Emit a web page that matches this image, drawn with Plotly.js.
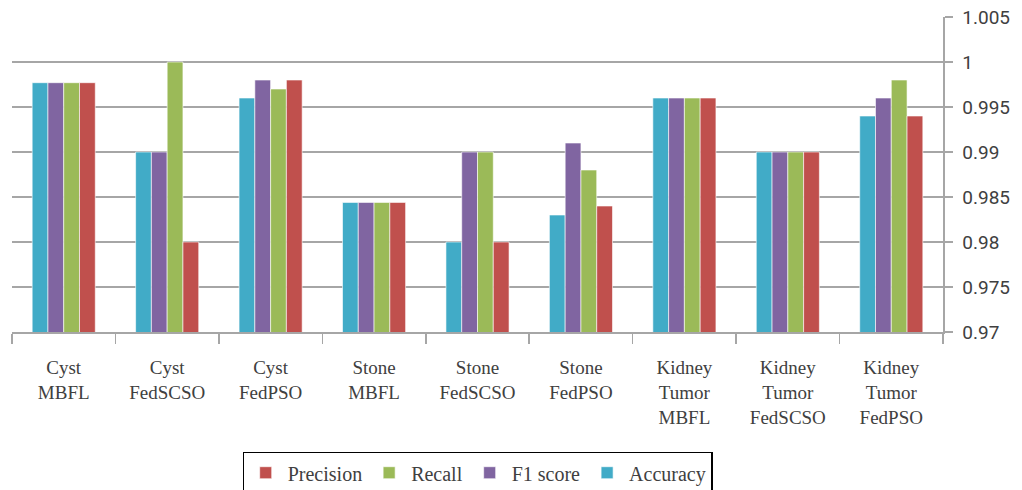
<!DOCTYPE html>
<html><head><meta charset="utf-8">
<script src="https://cdn.plot.ly/plotly-3.0.1.min.js"></script>
<style>html,body{margin:0;padding:0;background:#fff;overflow:hidden}#wrap{width:1022px;height:490px;overflow:hidden}#chart{width:1022px;height:510px}</style>
</head><body><div id="wrap"><div id="chart"></div></div>
<script>
const categories = ["Cyst<br>MBFL","Cyst<br>FedSCSO","Cyst<br>FedPSO","Stone<br>MBFL","Stone<br>FedSCSO","Stone<br>FedPSO","Kidney<br>Tumor<br>MBFL","Kidney<br>Tumor<br>FedSCSO","Kidney<br>Tumor<br>FedPSO"];
const accuracy  = [0.9977, 0.99, 0.996, 0.9844, 0.98, 0.983, 0.996, 0.99, 0.994];
const f1score   = [0.9977, 0.99, 0.998, 0.9844, 0.99, 0.991, 0.996, 0.99, 0.996];
const recall    = [0.9977, 1.00, 0.997, 0.9844, 0.99, 0.988, 0.996, 0.99, 0.998];
const precision = [0.9977, 0.98, 0.998, 0.9844, 0.98, 0.984, 0.996, 0.99, 0.994];
const yTickVals = [0.97, 0.975, 0.98, 0.985, 0.99, 0.995, 1, 1.005];
const yTickText = ["0.97","0.975","0.98","0.985","0.99","0.995","1","1.005"];

const serif = "Liberation Serif, DejaVu Serif, serif";
const mk = (name, y, color) => ({type:"bar", name, x:categories, y, marker:{color, line:{color:"#ffffff", width:0.6}}});
const data = [
  mk("Accuracy", accuracy, "#41abc7"),
  mk("F1 score", f1score, "#8065a1"),
  mk("Recall", recall, "#9bba58"),
  mk("Precision", precision, "#c0504d")
];
const layout = {
  width:1022, height:510,
  margin:{l:12, r:79, t:17, b:178},
  paper_bgcolor:"#fff", plot_bgcolor:"#fff",
  barmode:"group", bargap:0.39, bargroupgap:0.0,
  font:{family:serif, size:19, color:"#404040"},
  xaxis:{
    type:"category", showline:true, linecolor:"#a6a6a6", linewidth:1.5,
    ticks:"outside", tickson:"boundaries", ticklen:10, tickcolor:"#a6a6a6", tickwidth:1.5,
    ticklabelstandoff:18,
    tickfont:{family:serif, size:19, color:"#404040"}, showgrid:false, automargin:false, fixedrange:true
  },
  yaxis:{
    side:"right", range:[0.97, 1.005], tickmode:"array", tickvals:yTickVals, ticktext:yTickText,
    showgrid:true, gridcolor:"#a6a6a6", gridwidth:1.5,
    showline:true, linecolor:"#a6a6a6", linewidth:1.5,
    ticks:"outside", ticklen:8, tickcolor:"#a6a6a6", tickwidth:1.5, ticklabelstandoff:6,
    tickfont:{family:"Liberation Sans Narrow, Roboto, sans-serif", size:19, color:"#404040"},
    zeroline:false, automargin:false, fixedrange:true
  },
  showlegend:true,
  legend:{orientation:"h", x:0.5, xanchor:"center", y:-0.381, yanchor:"top", traceorder:"reversed",
    bordercolor:"#000", borderwidth:1.2, bgcolor:"#fff",
    font:{family:serif, size:20, color:"#404040"}, itemwidth:34}
};
Plotly.newPlot("chart", data, layout, {displayModeBar:false, staticPlot:true});
</script></body></html>
